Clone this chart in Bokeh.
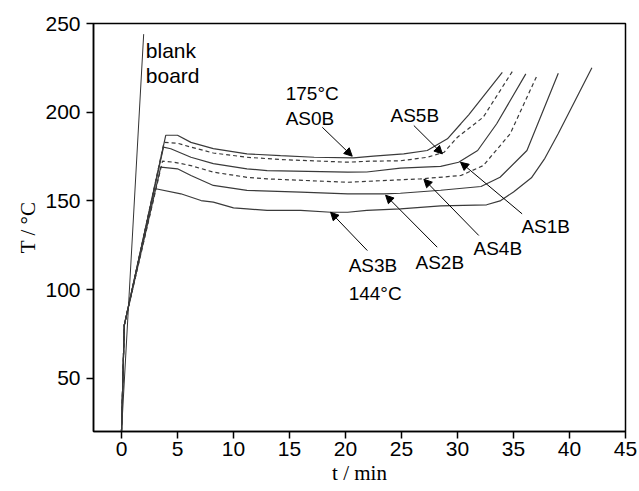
from bokeh.plotting import figure
from bokeh.models import Arrow, NormalHead, FixedTicker, Range1d
from bokeh.core.properties import value
from bokeh.embed import file_html
from bokeh.resources import INLINE

# ---------------- data ----------------
blank_t = [0, 1.98]
blank_T = [20, 244]

as0b_t = [0, 0.25, 3.95, 5.0, 6.2, 8.2, 11.2, 14.2, 17.2, 20.7, 22.5, 25.2, 27.3, 29.1, 30.3, 31.0, 34.0]
as0b_T = [20, 80, 187, 187, 183, 179.5, 176.5, 175.5, 174.6, 174.2, 175.2, 176.5, 178.4, 185, 193.5, 198.5, 222.5]

as5b_t = [0, 0.25, 3.8, 5.0, 6.2, 8.2, 11.2, 14.2, 20.2, 22.2, 24.9, 27.3, 28.8, 30.0, 32.3, 35.0]
as5b_T = [20, 80, 183, 182.5, 180.3, 177, 174.6, 173.3, 171.8, 172.4, 172.6, 174.6, 177.4, 185.9, 197.2, 224]

as1b_t = [0, 0.25, 3.75, 4.4, 6.2, 8.2, 11.2, 13.0, 20.2, 21.9, 24.9, 28.5, 30.1, 31.8, 33.5, 36.1]
as1b_T = [20, 80, 180.3, 179.4, 174.6, 171, 168.1, 167.1, 166.2, 166.3, 168.5, 169.5, 171.8, 178.4, 193.5, 221.6]

as4b_t = [0, 0.25, 3.66, 4.7, 6.2, 8.2, 11.2, 13.0, 20.2, 24.9, 26.7, 30.3, 32.3, 34.7, 37.1]
as4b_T = [20, 80, 172.4, 171.8, 169.9, 166.2, 163.3, 162.4, 160.5, 161.9, 162.4, 164.3, 169.9, 187.8, 220.7]

as2b_t = [0, 0.25, 3.5, 5.0, 6.2, 8.2, 11.2, 16.0, 20.2, 23.4, 24.9, 28.5, 32.1, 33.8, 36.2, 39.0]
as2b_T = [20, 80, 169, 168.1, 164.3, 158.7, 155.9, 154.9, 154, 154, 154.3, 156, 158.1, 163.3, 178.4, 222]

as3b_t = [0, 0.25, 2.95, 5.3, 7.1, 8.2, 10.0, 11.2, 13.0, 16.0, 18.7, 20.2, 21.9, 24.9, 28.5, 32.6, 33.8, 35.0, 36.6, 37.8, 39.0, 42.0]
as3b_T = [20, 80, 157, 154, 150.2, 149.3, 146.1, 145.5, 144.6, 144.6, 143.6, 143.6, 144.6, 145.5, 147.2, 147.8, 150, 155, 163, 174, 188, 225]

series_names = ["AS0B", "AS5B", "AS1B", "AS4B", "AS2B", "AS3B"]
series_t = [as0b_t, as5b_t, as1b_t, as4b_t, as2b_t, as3b_t]
series_T = [as0b_T, as5b_T, as1b_T, as4b_T, as2b_T, as3b_T]
series_dash = ["solid", "4 3", "solid", "4 3", "solid", "solid"]

x_ticks = [0, 5, 10, 15, 20, 25, 30, 35, 40, 45]
y_ticks = [50, 100, 150, 200, 250]

# annotation texts and positions (data coords)
board_text = ["blank", "board"]
board_x = [2.17, 2.17]
board_y = [234.8, 220.7]

label_text = ["175°C", "AS0B", "AS5B", "AS1B", "AS4B", "AS2B", "AS3B", "144°C"]
label_x = [14.66, 14.66, 24.02, 35.71, 31.43, 26.25, 20.28, 20.28]
label_y = [210.6, 196.5, 198.1, 135.6, 123.2, 115.5, 113.6, 97.8]

# arrows: (x_start, y_start, x_end, y_end)
arrows = [
    (17.93, 191.5, 20.6, 175.2),   # AS0B
    (26.1, 192.5, 28.65, 176.5),   # AS5B
    (35.77, 142.7, 30.27, 171.8),  # AS1B
    (31.9, 130.5, 27.0, 162.2),    # AS4B
    (28.19, 123.9, 23.58, 153.2),  # AS2B
    (21.95, 122.0, 18.67, 143.6),  # AS3B
]

# ---------------- figure ----------------
p = figure(width=639, height=491, output_backend="svg", toolbar_location=None,
           x_range=Range1d(-2.5, 45), y_range=Range1d(20, 250),
           min_border_left=93, min_border_right=14, min_border_top=23, min_border_bottom=60,
           background_fill_color="white", border_fill_color="white")
p.grid.visible = False
p.outline_line_color = "black"
p.outline_line_width = 1.5

for ax in p.axis:
    ax.axis_line_color = "black"
    ax.axis_line_width = 1.5
    ax.major_tick_line_color = "black"
    ax.major_tick_line_width = 1.5
    ax.major_tick_out = 7
    ax.major_tick_in = 0
    ax.minor_tick_line_color = None
    ax.major_label_text_font = "Liberation Sans"
    ax.major_label_text_font_size = "21px"
    ax.major_label_text_color = "black"
    ax.axis_label_text_font = "Liberation Serif"
    ax.axis_label_text_font_size = "21px"
    ax.axis_label_text_font_style = "normal"
    ax.axis_label_text_color = "black"
    ax.axis_label_standoff = 2

p.xaxis.major_label_standoff = 3
p.yaxis.major_label_standoff = 6

p.xaxis.ticker = FixedTicker(ticks=x_ticks)
p.yaxis.ticker = FixedTicker(ticks=y_ticks)
p.xaxis.axis_label = "t / min"
p.yaxis.axis_label = "T / °C"

p.line(blank_t, blank_T, line_color="#333333", line_width=1)
for t, T, d in zip(series_t, series_T, series_dash):
    p.line(t, T, line_color="#3a3a3a", line_width=1.2, line_dash=d)

p.text(x=board_x, y=board_y, text=board_text, text_font=value("Liberation Sans"),
       text_font_size="21px", text_baseline="alphabetic", text_align="left", text_color="black")
p.text(x=label_x, y=label_y, text=label_text, text_font=value("Liberation Sans"),
       text_font_size="19px", text_baseline="alphabetic", text_align="left", text_color="black")

for xs, ys, xe, ye in arrows:
    p.add_layout(Arrow(end=NormalHead(size=8, fill_color="black", line_color="black", line_width=1),
                       x_start=xs, y_start=ys, x_end=xe, y_end=ye,
                       line_color="black", line_width=1))

open("out.html", "w").write(file_html(p, INLINE))
